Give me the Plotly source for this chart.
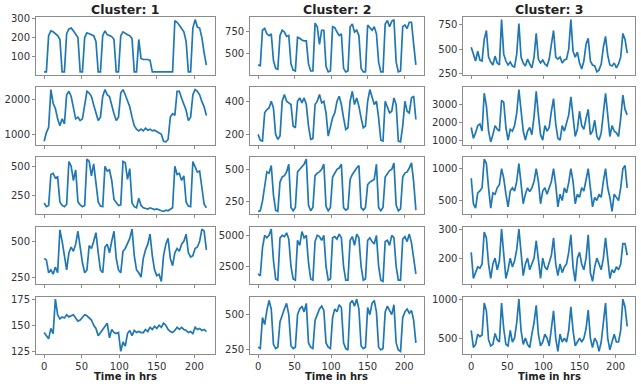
import plotly.graph_objects as go

# time axis (hours), sampled every 3 h
hours = list(range(0, 217, 3))

# ---- Cluster 1 ----
c1_r1 = [20, 20, 210, 235, 230, 220, 210, 190,
         20, 20, 220, 245, 250, 235, 220, 200,
         20, 20, 200, 225, 220, 215, 210, 180,
         20, 20, 210, 235, 215, 210, 205, 190,
         20, 20, 210, 230, 220, 215, 210, 195,
         20, 20, 190, 90, 85, 85, 85, 80,
         20, 20, 20, 20, 20, 20, 20, 20,
         20, 20, 288, 280, 265, 250, 230, 180,
         20, 20, 250, 294, 255, 250, 200, 120,
         55]
c1_r2 = [800, 1050, 1200, 2300, 1900, 1750, 1450, 1250,
         1450, 1300, 2150, 2250, 2100, 1800, 1450, 1500,
         1400, 1450, 1800, 2250, 2200, 2100, 1850, 1600,
         1400, 1500, 2100, 2300, 2150, 2100, 1800, 1600,
         1400, 1500, 2200, 2300, 2150, 2000, 1800, 1500,
         1250, 1150, 1100, 1150, 1100, 1180, 1120, 1150,
         1100, 1120, 1080, 1050, 1000, 800, 780, 850,
         1500, 1600, 1550, 2250, 2250, 2050, 1900, 1700,
         1400, 1500, 2150, 2300, 2250, 2150, 1950, 1800,
         1550]
c1_r3 = [190, 160, 170, 430, 440, 400, 410, 200,
         170, 160, 180, 540, 500, 380, 470, 200,
         175, 160, 170, 560, 540, 420, 520, 350,
         200, 165, 160, 500, 460, 470, 380, 220,
         190, 170, 175, 540, 530, 390, 480, 190,
         160, 150, 230, 170, 150, 145, 140, 150,
         140, 135, 140, 130, 125, 120, 130, 125,
         135, 150, 500, 430, 440, 380, 420, 200,
         165, 160, 540, 500, 450, 460, 300, 180,
         150]
c1_r4 = [380, 370, 280, 300, 270, 320, 280, 580,
         500, 380, 300, 420, 460, 430, 480, 570,
         450, 350, 280, 300, 470, 450, 500, 560,
         420, 300, 280, 460, 480, 420, 500, 570,
         380, 300, 280, 430, 450, 480, 520, 585,
         400, 300, 280, 250, 380, 440, 480, 550,
         400, 300, 260, 270, 220, 400, 480, 520,
         380, 330, 420, 450, 430, 480, 500, 550,
         420, 390, 400, 450, 460, 500, 585, 570,
         440]
c1_r5 = [143, 140, 137, 147, 142, 175, 160, 156,
         158, 157, 160, 158, 159, 160, 157, 154,
         155, 158, 160, 159, 157, 155, 150, 147,
         140, 143, 146, 150, 152, 138, 146, 143,
         142, 143, 125, 134, 130, 142, 145, 140,
         145, 143, 144, 143, 143, 146, 144, 148,
         146, 149, 147, 150, 148, 152, 150, 146,
         144, 143, 145, 148, 146, 148, 146, 145,
         143, 144, 142, 148, 146, 147, 145, 146,
         144]

# ---- Cluster 2 ----
c2_r1 = [370, 360, 760, 780, 720, 700, 720, 420,
         330, 320, 700, 760, 740, 690, 700, 380,
         310, 300, 680, 670, 650, 640, 640, 380,
         300, 300, 840, 800, 600, 760, 760, 350,
         290, 300, 800, 790, 740, 700, 720, 330,
         290, 300, 800, 830, 740, 760, 700, 330,
         290, 290, 820, 790, 760, 800, 720, 400,
         290, 290, 830, 870, 800, 860, 880, 400,
         290, 300, 800, 820, 780, 850, 850, 600,
         370]
c2_r2 = [200, 165, 160, 330, 350, 360, 400, 360,
         200, 170, 190, 400, 440, 400, 390, 380,
         250, 240, 400, 420, 390, 420, 380, 250,
         170, 175, 380, 400, 440, 390, 400, 330,
         190, 240, 300, 330, 400, 430, 380, 300,
         230, 240, 400, 460, 380, 420, 370, 300,
         240, 250, 400, 470, 430, 380, 400, 300,
         165, 160, 400, 360, 330, 340, 420, 380,
         160, 155, 250, 400, 340, 330, 420, 430,
         290]
c2_r3 = [170, 175, 250, 380, 480, 470, 530, 300,
         180, 170, 400, 440, 450, 480, 540, 200,
         175, 200, 480, 500, 520, 540, 580, 220,
         175, 200, 450, 470, 480, 500, 540, 210,
         175, 200, 440, 470, 500, 510, 540, 200,
         180, 190, 420, 460, 490, 510, 530, 200,
         180, 200, 380, 400, 410, 420, 540, 200,
         175, 200, 440, 470, 490, 500, 550, 220,
         175, 190, 440, 470, 480, 510, 550, 400,
         180]
c2_r4 = [1900, 1750, 4000, 5000, 4800, 5000, 5500, 3000,
         1500, 1400, 4800, 5000, 4900, 5200, 4700, 2500,
         1500, 1400, 4600, 4200, 5300, 4800, 5000, 2800,
         1500, 1400, 4500, 5000, 4900, 4600, 5000, 2500,
         1400, 1500, 4800, 4900, 4700, 5100, 4800, 2500,
         1400, 1400, 4600, 4900, 4200, 5100, 4800, 2500,
         1400, 1500, 4600, 4800, 4500, 4300, 5000, 2500,
         1400, 1300, 4500, 4600, 4200, 5000, 4800, 2500,
         1400, 1400, 4700, 4900, 4500, 5100, 4400, 3000,
         1900]
c2_r5 = [270, 260, 480, 430, 530, 600, 540, 290,
         260, 270, 450, 500, 540, 580, 500, 280,
         260, 270, 500, 540, 560, 520, 580, 300,
         270, 260, 460, 500, 540, 560, 530, 300,
         270, 260, 480, 540, 520, 570, 550, 300,
         260, 250, 580, 600, 560, 610, 540, 280,
         260, 270, 550, 500, 580, 600, 520, 270,
         250, 260, 520, 560, 530, 500, 570, 300,
         250, 240, 480, 520, 540, 510, 530, 460,
         300]

# ---- Cluster 3 ----
c3_r1 = [520, 450, 380, 480, 390, 380, 600, 690,
         420, 370, 340, 430, 360, 340, 800, 450,
         380, 340, 370, 330, 320, 450, 760, 420,
         360, 330, 400, 350, 310, 420, 660, 400,
         360, 390, 350, 330, 400, 550, 690, 420,
         400, 420, 360, 390, 400, 500, 800, 480,
         420, 470, 360, 300, 380, 550, 610, 380,
         340, 330, 270, 290, 350, 520, 630, 440,
         340, 330, 360, 310, 350, 420, 660, 600,
         460]
c3_r2 = [1700, 1100, 1400, 1800, 1900, 1500, 3600, 2900,
         1500, 900, 1300, 1800, 1600, 1500, 3200, 3100,
         1700, 1000, 1600, 1500, 1800, 2500, 3800, 2800,
         1500, 1000, 1500, 1700, 1300, 2300, 3700, 2400,
         1300, 1000, 1800, 1500, 1700, 2600, 3300, 1900,
         1100, 1000, 1800, 1500, 1900, 2400, 3400, 2400,
         1200, 1600, 2600, 1800, 1600, 2200, 2700, 1300,
         1500, 2100, 1200, 1000, 1400, 2500, 3600, 2400,
         1200, 1800, 1500, 1400, 1200, 2200, 3500, 2700,
         2400]
c3_r3 = [850, 450, 380, 620, 650, 700, 1150, 1080,
         700, 380, 620, 600, 700, 750, 1000, 850,
         600, 400, 650, 700, 650, 800, 1080, 800,
         450, 600, 700, 640, 700, 800, 1000, 800,
         450, 650, 700, 600, 720, 800, 1000, 750,
         400, 600, 500, 700, 620, 780, 1000, 800,
         450, 600, 550, 700, 650, 850, 1000, 700,
         400, 550, 500, 600, 550, 800, 1000, 700,
         550, 330, 600, 550, 500, 700, 1000, 1050,
         700]
c3_r4 = [220, 130, 150, 170, 165, 180, 290, 270,
         180, 130, 180, 200, 160, 190, 300, 200,
         130, 160, 200, 170, 190, 230, 300, 220,
         140, 180, 200, 160, 180, 200, 260, 190,
         130, 200, 170, 160, 190, 210, 270, 180,
         140, 180, 150, 170, 180, 220, 280, 170,
         120, 200, 220, 180, 160, 200, 280, 150,
         120, 170, 200, 180, 160, 200, 270, 200,
         130, 160, 150, 170, 160, 180, 250, 250,
         210]
c3_r5 = [600, 380, 420, 550, 520, 540, 950, 850,
         480, 400, 420, 560, 480, 450, 950, 620,
         420, 400, 600, 450, 500, 700, 1000, 600,
         420, 500, 420, 380, 550, 700, 920, 550,
         400, 450, 550, 500, 400, 600, 850, 500,
         330, 550, 450, 500, 450, 600, 900, 600,
         400, 450, 500, 450, 500, 620, 860, 500,
         380, 500, 450, 330, 450, 700, 950, 500,
         350, 450, 550, 450, 450, 600, 1000, 900,
         650]

cluster_titles = ["Cluster: 1", "Cluster: 2", "Cluster: 3"]
x_label = "Time in hrs"
x_ticks = [0, 50, 100, 150, 200]

series = [
    [c1_r1, c2_r1, c3_r1],
    [c1_r2, c2_r2, c3_r2],
    [c1_r3, c2_r3, c3_r3],
    [c1_r4, c2_r4, c3_r4],
    [c1_r5, c2_r5, c3_r5],
]
y_ticks = [
    [[100, 200, 300], [500, 750], [250, 500, 750]],
    [[1000, 2000], [200, 400], [1000, 2000, 3000]],
    [[250, 500], [250, 500], [500, 1000]],
    [[250, 500], [2500, 5000], [200, 300]],
    [[125, 150, 175], [250, 500], [500, 1000]],
]

# ---- layout geometry (pixels) ----
W, H = 641, 384
L, R, T, B = 32, 5, 17, 30
pw, ph = W - L - R, H - T - B
col_px = [(32, 212), (248, 423), (463, 636)]
row_tops = [17, 87, 156.5, 226.5, 296.5]
row_h = 57.5

FONT = "DejaVu Sans"
LINE = "#1f77b4"
FRAME = "#8c8c8c"

fig = go.Figure()
layout = dict(
    width=W, height=H,
    margin=dict(l=L, r=R, t=T, b=B, pad=0),
    paper_bgcolor="white", plot_bgcolor="white",
    showlegend=False,
    font=dict(family=FONT, size=10, color="#333333"),
)

k = 0
for r in range(5):
    for c in range(3):
        k += 1
        xa = "x" if k == 1 else f"x{k}"
        ya = "y" if k == 1 else f"y{k}"
        y = series[r][c]
        fig.add_trace(go.Scatter(
            x=hours[:len(y)], y=y, mode="lines",
            line=dict(color=LINE, width=1.7),
            xaxis=xa, yaxis=ya, hoverinfo="skip"))
        x0, x1 = col_px[c]
        top = row_tops[r]
        bot = top + row_h
        mn, mx = min(y), max(y)
        pad = 0.05 * (mx - mn)
        span = hours[len(y) - 1] - hours[0]
        layout["xaxis" if k == 1 else f"xaxis{k}"] = dict(
            domain=[(x0 - L) / pw, (x1 - L) / pw],
            anchor=ya,
            range=[hours[0] - 0.05 * span, hours[len(y) - 1] + 0.05 * span],
            tickvals=x_ticks, showticklabels=(r == 4),
            ticks="outside", ticklen=3, tickwidth=1, tickcolor=FRAME,
            showgrid=False, zeroline=False,
            showline=True, linecolor=FRAME, linewidth=1, mirror=True,
            tickfont=dict(size=10, color="#333333", family=FONT),
            fixedrange=True,
        )
        layout["yaxis" if k == 1 else f"yaxis{k}"] = dict(
            domain=[(H - B - bot) / ph, (H - B - top) / ph],
            anchor=xa,
            range=[mn - pad, mx + pad],
            tickvals=y_ticks[r][c],
            ticks="outside", ticklen=3, tickwidth=1, tickcolor=FRAME,
            showgrid=False, zeroline=False,
            showline=True, linecolor=FRAME, linewidth=1, mirror=True,
            tickfont=dict(size=10, color="#333333", family=FONT),
            fixedrange=True,
        )

annotations = []
for c in range(3):
    x0, x1 = col_px[c]
    xc = ((x0 + x1) / 2 - L) / pw
    annotations.append(dict(
        text=f"<b>{cluster_titles[c]}</b>", x=xc, y=(H - B - 9) / ph,
        xref="paper", yref="paper", xanchor="center", yanchor="middle",
        showarrow=False, font=dict(size=12.5, color="#222222", family=FONT)))
    annotations.append(dict(
        text=f"<b>{x_label}</b>", x=xc, y=(H - B - 384) / ph,
        xref="paper", yref="paper", xanchor="center", yanchor="bottom",
        showarrow=False, font=dict(size=10, color="#222222", family=FONT)))
layout["annotations"] = annotations

fig.update_layout(**layout)
fig.write_html("out.html")
